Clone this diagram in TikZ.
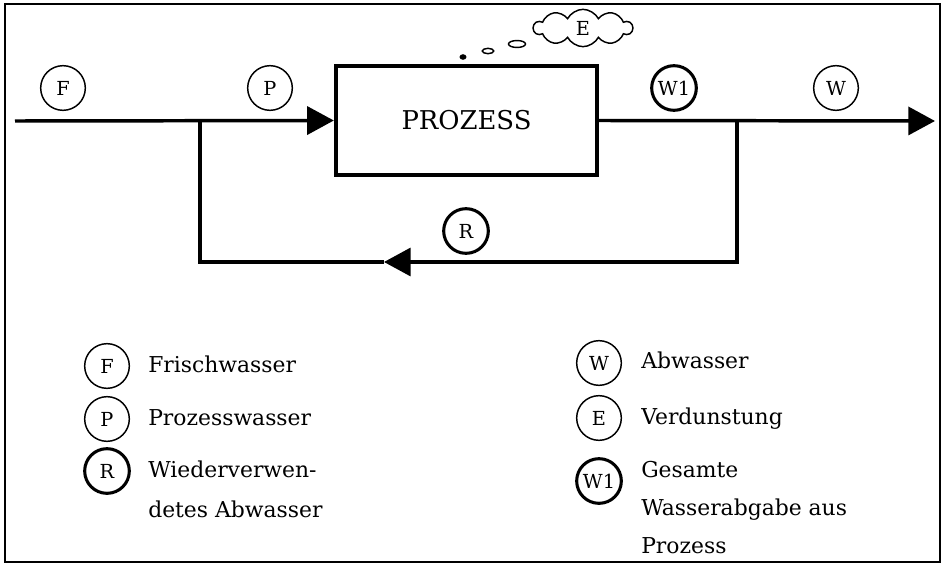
\documentclass[tikz,border=0pt]{standalone}
\usepackage{fontspec}
\setmainfont{DejaVu Serif}
\usetikzlibrary{arrows.meta, shapes.symbols, positioning}

\begin{document}
\begin{tikzpicture}[
  x=0.75pt, y=-0.75pt,
  font=\fontsize{16.4}{20}\selectfont,
  tag/.style={draw, circle, line width=1.1pt, minimum size=33.5pt, inner sep=0pt, font=\fontsize{14.5}{17}\selectfont},
  tagbold/.style={tag, line width=2.3pt},
  legend/.style={anchor=base west, inner sep=0pt},
  pipe/.style={line width=2.6pt},
  arrow/.style={pipe, -{Triangle[length=20pt, width=21pt]}},
  bubble/.style={draw, line width=1.1pt},
]
\useasboundingbox (0,0) rectangle (947,567);

% Frame
\draw[line width=1.9pt] (5,4) rectangle (940,562);

% Process
\node[draw, line width=3pt, minimum width=196pt, minimum height=82pt, inner sep=0pt,
      font=\fontsize{19.4}{23}\selectfont] (proc) at (466.5,120.5) {PROZESS};

% Pipe points
\coordinate (inlet) at (15,121);
\coordinate (split) at (200,121);
\coordinate (join) at (737,121);
\coordinate (outlet) at (935,121);
\coordinate (splitlow) at (200,262);
\coordinate (ret) at (384,262);

% Flows
\draw[arrow] (inlet) -- (proc.west);
\draw[arrow] (proc.east) -- (outlet);
\draw[arrow] (join) |- (ret);
\draw[pipe] (ret) -- (splitlow) -- (split);

% Stream tags
\node[tag] (tagF) at (63,88) {F};
\node[tag] (tagP) at (270,88) {P};
\node[tagbold] (tagWone) at (674,88) {W1};
\node[tag] (tagW) at (836,88) {W};
\node[tagbold] (tagR) at (466,231) {R};

% Evaporation
\node[cloud, draw, line width=1.1pt, cloud puffs=10, cloud puff arc=125, aspect=2.5, minimum width=74pt,
      minimum height=28pt, inner sep=0pt, font=\fontsize{14.5}{17}\selectfont] (evap) at (583,28) {E};
\draw[bubble] (517,44) ellipse [x radius=6.4pt, y radius=2.6pt];
\draw[bubble] (488,51) ellipse [x radius=4.3pt, y radius=2pt];
\draw[bubble, fill=black] (463,57) ellipse [x radius=2pt, y radius=1.5pt];

% Legend, left
\node[tag] (keyF) at (107,366) {F};
\node[legend] (txtF) at (148,372) {Frischwasser};
\node[tag] (keyP) at (107,419) {P};
\node[legend] (txtP) at (148,425) {Prozesswasser};
\node[tagbold] (keyR) at (107,471) {R};
\node[legend] (txtR) at (148,477) {Wiederverwen-};
\node[legend] (txtRb) at (148,517) {detes Abwasser};

% Legend, right
\node[tag] (keyW) at (599,363) {W};
\node[legend] (txtW) at (641,368) {Abwasser};
\node[tag] (keyE) at (599,418) {E};
\node[legend] (txtE) at (641,424) {Verdunstung};
\node[tagbold] (keyWone) at (599,481) {W1};
\node[legend] (txtWone) at (641,477) {Gesamte};
\node[legend] (txtWoneb) at (641,515) {Wasserabgabe aus};
\node[legend] (txtWonec) at (641,553) {Prozess};

\end{tikzpicture}
\end{document}
